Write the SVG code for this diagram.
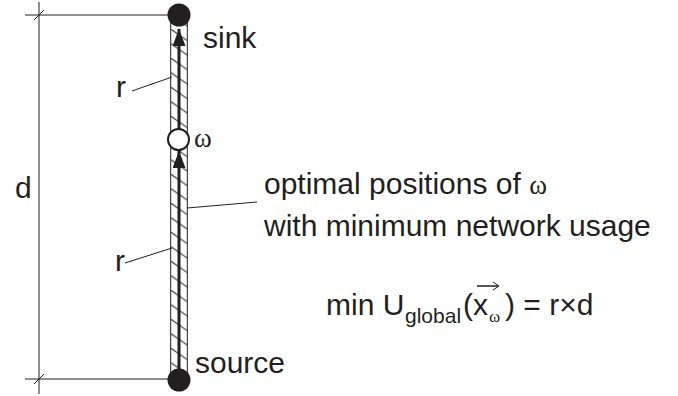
<svg xmlns="http://www.w3.org/2000/svg" width="678" height="396" viewBox="0 0 678 396">
<defs>
<style>
text{font-family:"Liberation Sans",Arial,sans-serif;fill:#231f20;font-size:30px}
.serif{font-family:"Liberation Serif","Times New Roman",serif;font-size:27px}
.sub{font-size:21px}
.subw{font-family:"Liberation Serif","Times New Roman",serif;font-size:17px}
.thin{stroke:#231f20;stroke-width:1;fill:none}
.hatch{stroke:#231f20;stroke-width:1}
</style>
<pattern id="h" patternUnits="userSpaceOnUse" width="17" height="14.5" x="170.7" y="0">
<line x1="0" y1="0" x2="17" y2="12" class="hatch"/>
</pattern>
<marker id="ah" viewBox="0 0 17 13" refX="17" refY="6.5" markerWidth="17" markerHeight="13" markerUnits="userSpaceOnUse" orient="auto">
<path d="M0,0 L17,6.5 L0,13 Z" fill="#231f20"/>
</marker>
</defs>
<rect width="678" height="396" fill="#fff"/>
<g id="dimension">
<line class="thin" x1="25" y1="15" x2="168" y2="15"/>
<line class="thin" x1="25" y1="379" x2="168" y2="379"/>
<line class="thin" x1="39" y1="2" x2="39" y2="394"/>
<line class="thin" x1="34" y1="20" x2="44" y2="10"/>
<line class="thin" x1="34" y1="384" x2="44" y2="374"/>
<text x="15" y="198">d</text>
</g>
<g id="strip">
<rect x="170.7" y="16" width="16.6" height="364" fill="url(#h)" stroke="#231f20" stroke-width="1"/>
</g>
<g id="connectors">
<line x1="179" y1="129" x2="179" y2="29" stroke="#231f20" stroke-width="3" marker-end="url(#ah)"/>
<line x1="179" y1="370" x2="179" y2="151" stroke="#231f20" stroke-width="3" marker-end="url(#ah)"/>
<line class="thin" x1="132" y1="91" x2="172" y2="77"/>
<line class="thin" x1="125" y1="263" x2="172" y2="248"/>
<line class="thin" x1="187" y1="208" x2="257" y2="202"/>
</g>
<g id="sink">
<circle cx="179" cy="15" r="11.5" fill="#231f20"/>
<text x="203" y="48">sink</text>
</g>
<g id="omega">
<circle cx="178.5" cy="139.5" r="10.5" fill="#fff" stroke="#231f20" stroke-width="2"/>
<text x="194" y="147" class="serif">ω</text>
</g>
<g id="source">
<circle cx="179" cy="380" r="11.5" fill="#231f20"/>
<text x="195" y="373">source</text>
</g>
<g id="labels">
<text x="116" y="97">r</text>
<text x="115" y="271">r</text>
<text x="264" y="194">optimal positions of <tspan class="serif">ω</tspan></text>
<text x="264" y="236">with minimum network usage</text>
<text x="326" y="315">min U</text>
<text x="405" y="323" class="sub">global</text>
<text x="463" y="315">(x</text>
<text x="489" y="322" class="subw">ω</text>
<text x="505" y="315">) = r×d</text>
<line x1="477" y1="286" x2="498" y2="286" stroke="#231f20" stroke-width="1.5"/>
<path d="M493,282 L499,286 L493,290" class="thin" stroke-width="1.5"/>
</g>
</svg>
